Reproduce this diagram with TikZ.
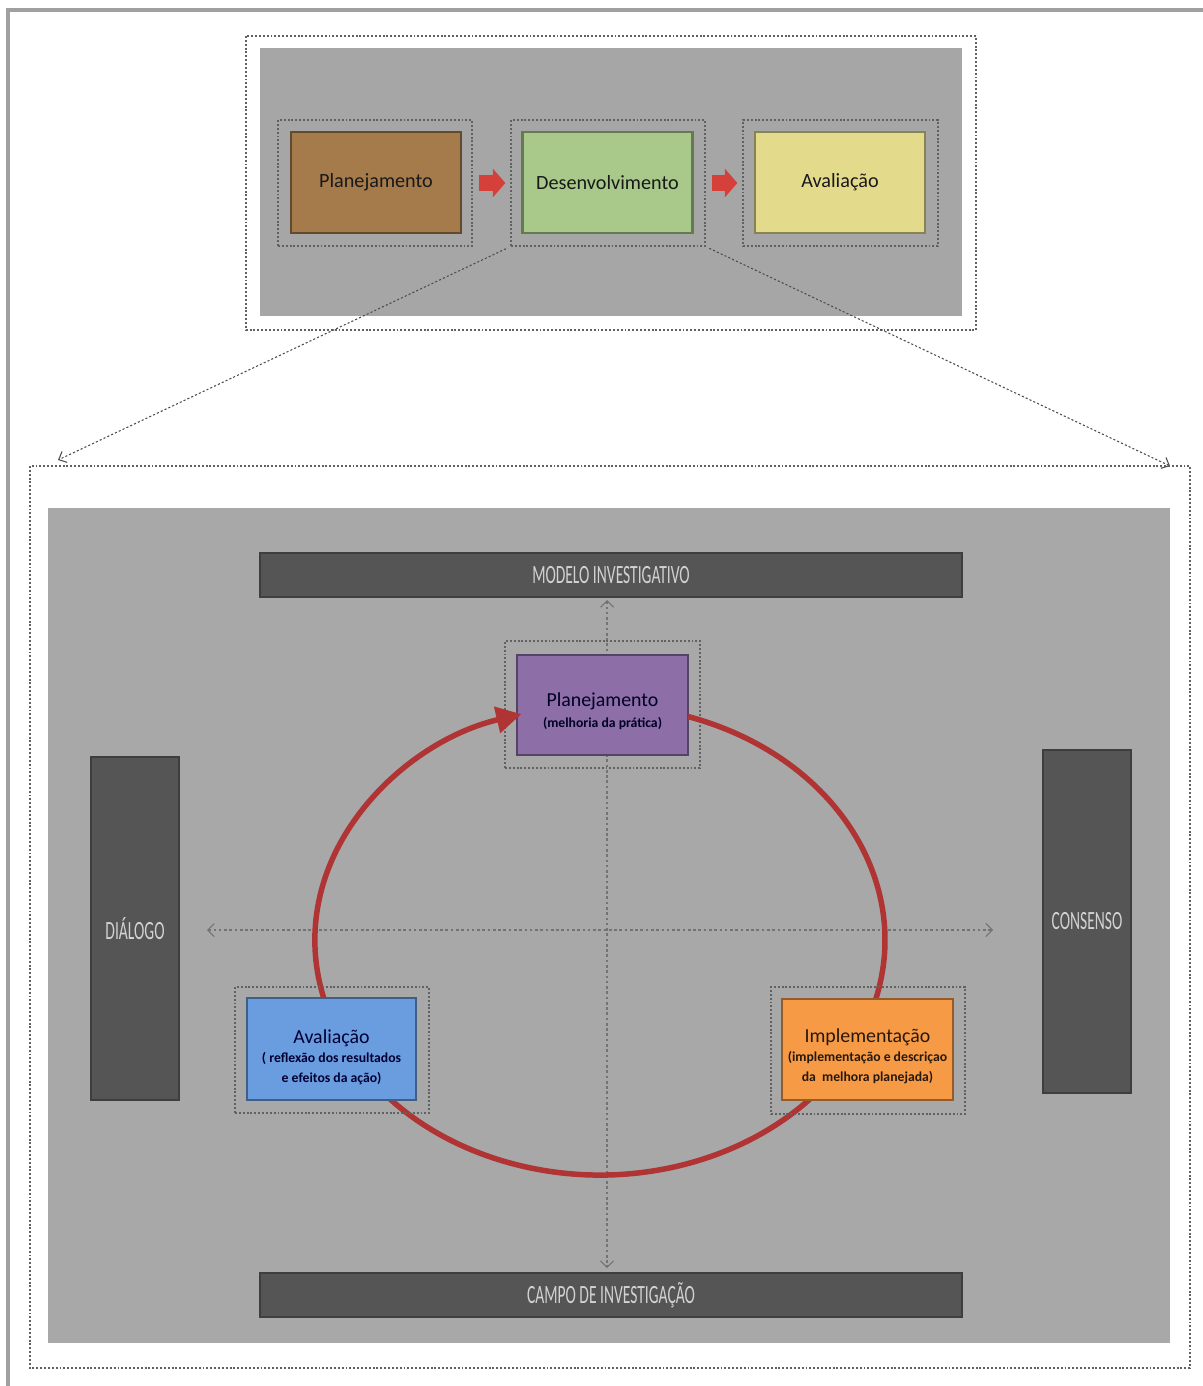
\documentclass[tikz,border=0pt]{standalone}
\usepackage{fontspec}
\setmainfont{Carlito}
\newfontfamily\barfont[FakeStretch=0.59]{Carlito}
\usetikzlibrary{arrows.meta,calc}

\definecolor{panelgray}{HTML}{A6A6A6}
\definecolor{bargray}{HTML}{555555}
\definecolor{barline}{HTML}{3E3E3E}
\definecolor{bartext}{HTML}{D2D2D2}
\definecolor{brownbox}{HTML}{A67B4B}
\definecolor{greenbox}{HTML}{A9C98B}
\definecolor{yellowbox}{HTML}{E3DA8B}
\definecolor{purplebox}{HTML}{8D6EA6}
\definecolor{bluebox}{HTML}{6A9DE0}
\definecolor{orangebox}{HTML}{F79A46}
\definecolor{cyclered}{HTML}{B03434}
\definecolor{arrowred}{HTML}{D6403B}
\definecolor{edgegray}{HTML}{A0A0A0}

\def\px{0.02cm}
% smaller bold lines under a stage title
\newcommand\stagenote{\fontsize{7.8}{9}\selectfont\bfseries}

\tikzset{
  dotframe/.style={draw=black!62, dash pattern=on 1.1pt off 1.1pt, line width=0.7pt},
  framenode/.style={dotframe, inner sep=0pt},
  stagebox/.style={draw=#1!60!black, line width=1.3pt, fill=#1, inner sep=0pt,
    minimum width=170*\px, minimum height=101*\px, align=center,
    font=\fontsize{11.5}{14}\selectfont, text=black!90},
  cyclebox/.style={draw=#1!60!black, line width=1.3pt, fill=#1, inner sep=0pt},
  cycletext/.style={inner sep=0pt, align=center, font=\fontsize{11.3}{14}\selectfont},
  darkbar/.style={draw=barline, line width=1pt, fill=bargray, inner sep=0pt,
    text=bartext, font=\barfont\fontsize{15}{17}\selectfont},
  blockarrow/.style={draw=arrowred, line width=0.32cm,
    -{Triangle[length=0.25cm,width=0.56cm]}, shorten <=6*\px, shorten >=5*\px},
  zoomline/.style={draw=black!70, line width=0.6pt, dash pattern=on 1.2pt off 1.2pt,
    -{Straight Barb[length=1.3mm,width=2.4mm]}},
  axisline/.style={draw=black!55, line width=0.6pt, dash pattern=on 1.5pt off 1.5pt,
    {Straight Barb[length=1.3mm,width=2.6mm]}-{Straight Barb[length=1.3mm,width=2.6mm]}},
  cyclearc/.style={draw=cyclered, line width=0.11cm, -{Triangle[length=0.5cm,width=0.52cm]}}
}

\begin{document}
\begin{tikzpicture}[x=0.02cm, y=-0.02cm]
\useasboundingbox (0,0) rectangle (1203,1386);
\fill[white] (0,0) rectangle (1203,1386);

% page edge
\draw[edgegray, line width=1.8pt] (1203,10) -- (8,10) -- (8,1386);

% ---------- upper panel: three stages ----------
\draw[dotframe] (246,36) rectangle (976,330);
\fill[panelgray] (260,48) rectangle (962,316);

\node[framenode, minimum width=194*\px, minimum height=126*\px] (fp) at (375,183) {};
\node[framenode, minimum width=194*\px, minimum height=126*\px] (fd) at (608,183) {};
\node[framenode, minimum width=195*\px, minimum height=126*\px] (fa) at (840.5,183) {};

\node[stagebox=brownbox]  (p) at (376,182.5) {\raisebox{-1pt}{Planejamento}};
\node[stagebox=greenbox]  (d) at (607.5,182.5) {\raisebox{-2.5pt}{Desenvolvimento}};
\node[stagebox=yellowbox] (a) at (840,182.5) {\raisebox{-0.5pt}{Avaliação}};

\draw[blockarrow] (fp.east) -- (fd.west);
\draw[blockarrow] (fd.east) -- (fa.west);

% zoom lines from the middle stage
\coordinate (zl) at (58,460);
\coordinate (zr) at (1170,466);
\draw[zoomline, shorten <=5*\px] (fd.south west) -- (zl);
\draw[zoomline, shorten <=4*\px] (fd.south east) -- (zr);

% ---------- lower panel: action-research cycle ----------
\draw[dotframe] (30,466) rectangle (1190,1368);
\fill[panelgray!98!white] (48,508) rectangle (1170,1343);

\node[darkbar, minimum width=702*\px, minimum height=44*\px] (mi) at (611,575) {MODELO\ INVESTIGATIVO};
\node[darkbar, minimum width=702*\px, minimum height=44*\px] (cf) at (611,1295) {CAMPO\ DE\ INVESTIGAÇÃO};
\node[darkbar, minimum width=88*\px, minimum height=343*\px] (dl) at (135,928.5) {DIÁLOGO};
\node[darkbar, minimum width=88*\px, minimum height=343*\px] (cs) at (1087,921.5) {CONSENSO};

% axes
\coordinate (axt) at (607,600);
\coordinate (axb) at (607,1268);
\coordinate (axl) at (207,930);
\coordinate (axr) at (993,930);
\draw[axisline] (axt) -- (axb);
\draw[axisline] (axl) -- (axr);

% top of the cycle
\node[framenode, minimum width=195*\px, minimum height=127*\px] (fpl) at (602.5,704.5) {};
\node[cyclebox=purplebox, minimum width=171*\px, minimum height=100*\px] (pl) at (602.5,705) {};
\node[cycletext, text=black!85!blue] (plt) at ([yshift=-6*\px]pl.center)
  {Planejamento\\[-2pt]{\stagenote (melhoria da prática)}};

% the cycle
\draw[cyclearc] (688,716.5) arc[start angle=-72, end angle=254, x radius=285, y radius=235];

% lower stages of the cycle
\node[framenode, minimum width=194*\px, minimum height=126*\px] (fav) at (332,1050) {};
\node[cyclebox=bluebox, minimum width=169*\px, minimum height=102*\px] (av) at (331.5,1049) {};
\node[cycletext, text=black!80!blue] (avt) at ([yshift=-8*\px]av.center)
  {Avaliação\\[-3pt]{\stagenote ( reflexão dos resultados}\\[-2.7pt]{\stagenote e efeitos da ação)}};

\node[framenode, minimum width=194*\px, minimum height=127*\px] (fim) at (868,1050.5) {};
\node[cyclebox=orangebox, minimum width=171*\px, minimum height=101*\px] (im) at (867.5,1049.5) {};
\node[cycletext, text=black!80!brown] (imt) at ([yshift=-7*\px]im.center)
  {Implementação\\[-3pt]{\stagenote (implementação e descriçao}\\[-2.7pt]{\stagenote da\ \ melhora planejada)}};
\end{tikzpicture}
\end{document}
